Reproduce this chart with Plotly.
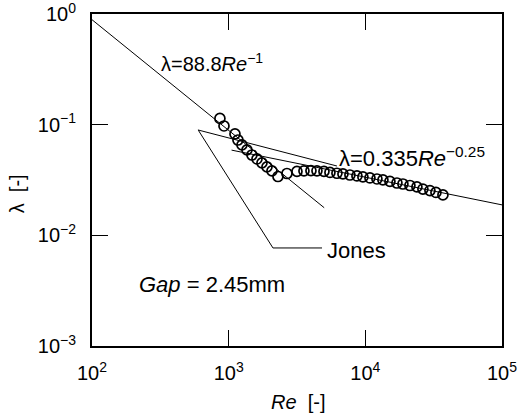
import plotly.graph_objects as go

# ---- data ----
re_data = [863, 924, 1112, 1169, 1251, 1361, 1480, 1611, 1752, 1906, 2073, 2294, 2670,
           3160, 3556, 4000, 4426, 4980, 5508, 6197, 6856, 7713, 8683, 9600, 10808,
           12160, 13450, 15136, 17030, 18840, 21200, 23850, 26370, 29690, 32850, 36960]
lam_data = [0.1138, 0.0973, 0.0824, 0.0727, 0.0656, 0.0591, 0.0532, 0.0490, 0.0451, 0.0415,
            0.0382, 0.0340, 0.0362,
            0.0378, 0.0382, 0.0384, 0.0383, 0.0378, 0.0370, 0.0364, 0.0359, 0.0351, 0.0344,
            0.0337, 0.0330, 0.0323, 0.0317, 0.0307, 0.0297, 0.0291, 0.0282, 0.0274, 0.0262,
            0.0254, 0.0244, 0.0232]

# lambda = 88.8 Re^-1 (laminar line)
re_lam = [100, 5000]
lam_lam = [0.888, 0.01776]

# lambda = 0.335 Re^-0.25 (turbulent line)
re_turb = [1050, 100000]
lam_turb = [0.0589, 0.01884]

# Jones line
re_jones = [596, 6200]
lam_jones = [0.0896, 0.0423]

# leader line to the "Jones" label
re_leader = [600, 2109, 4820]
lam_leader = [0.089, 0.00769, 0.00769]

x_tickvals = [1e2, 1e3, 1e4, 1e5]
x_ticktext = ["10<sup>2</sup>", "10<sup>3</sup>", "10<sup>4</sup>", "10<sup>5</sup>"]
y_tickvals = [1e-3, 1e-2, 1e-1, 1e0]
y_ticktext = ["10<sup>−3</sup>", "10<sup>−2</sup>", "10<sup>−1</sup>", "10<sup>0</sup>"]

FONT = "Liberation Sans, Arial, sans-serif"
FS = 20

fig = go.Figure()
line_style = dict(color="black", width=1)
fig.add_trace(go.Scatter(x=re_lam, y=lam_lam, mode="lines", line=line_style, showlegend=False))
fig.add_trace(go.Scatter(x=re_turb, y=lam_turb, mode="lines", line=line_style, showlegend=False))
fig.add_trace(go.Scatter(x=re_jones, y=lam_jones, mode="lines", line=line_style, showlegend=False))
fig.add_trace(go.Scatter(x=re_leader, y=lam_leader, mode="lines", line=line_style, showlegend=False))
fig.add_trace(go.Scatter(x=re_data, y=lam_data, mode="markers",
                         marker=dict(symbol="circle-open", size=10, color="black",
                                     line=dict(color="black", width=1.7)),
                         showlegend=False, cliponaxis=False))

axis_common = dict(
    type="log", showgrid=False, zeroline=False, automargin=False,
    showline=True, linecolor="black", linewidth=2, mirror="ticks",
    ticks="inside", ticklen=16, tickwidth=1.4, tickcolor="black",
    tickfont=dict(family=FONT, size=FS, color="black"),
    ticklabeloverflow="allow",
)
fig.update_xaxes(range=[2, 5], tickvals=x_tickvals, ticktext=x_ticktext,
                 ticklabelstandoff=8, **axis_common)
fig.update_yaxes(range=[-3, 0], tickvals=y_tickvals, ticktext=y_ticktext,
                 ticklabelstandoff=10, **axis_common)

annotations = [
    dict(text="λ=88.8<i>Re</i><sup>−1</sup>", x=0.164, y=0.855, size=20),
    dict(text="λ=0.335<i>Re</i><sup>−0.25</sup>", x=0.597, y=0.568, size=22),
    dict(text="Jones", x=0.568, y=0.289, size=22),
    dict(text="<i>Gap</i> = 2.45mm", x=0.110, y=0.184, size=22),
]
for a in annotations:
    size = a.pop("size")
    fig.add_annotation(xref="paper", yref="paper", xanchor="left", yanchor="middle",
                       showarrow=False, font=dict(family=FONT, size=size, color="black"), **a)

ann_font = dict(family=FONT, size=FS, color="black")
# axis titles
fig.add_annotation(xref="paper", yref="paper", x=0.502, y=-0.168, xanchor="center", yanchor="middle",
                   text="<i>Re</i>  [-]", showarrow=False, font=ann_font)
fig.add_annotation(xref="paper", yref="paper", x=-0.183, y=0.46, xanchor="center", yanchor="middle",
                   text="λ  [-]", textangle=-90, showarrow=False, font=ann_font)

fig.update_layout(
    width=518, height=420,
    margin=dict(l=92, r=16, t=14, b=74),
    paper_bgcolor="white", plot_bgcolor="white",
    font=dict(family=FONT, color="black"),
)

fig.write_html("out.html", config={"displayModeBar": False},
               post_script="document.body.style.margin='0px';document.body.style.overflow='hidden';")
